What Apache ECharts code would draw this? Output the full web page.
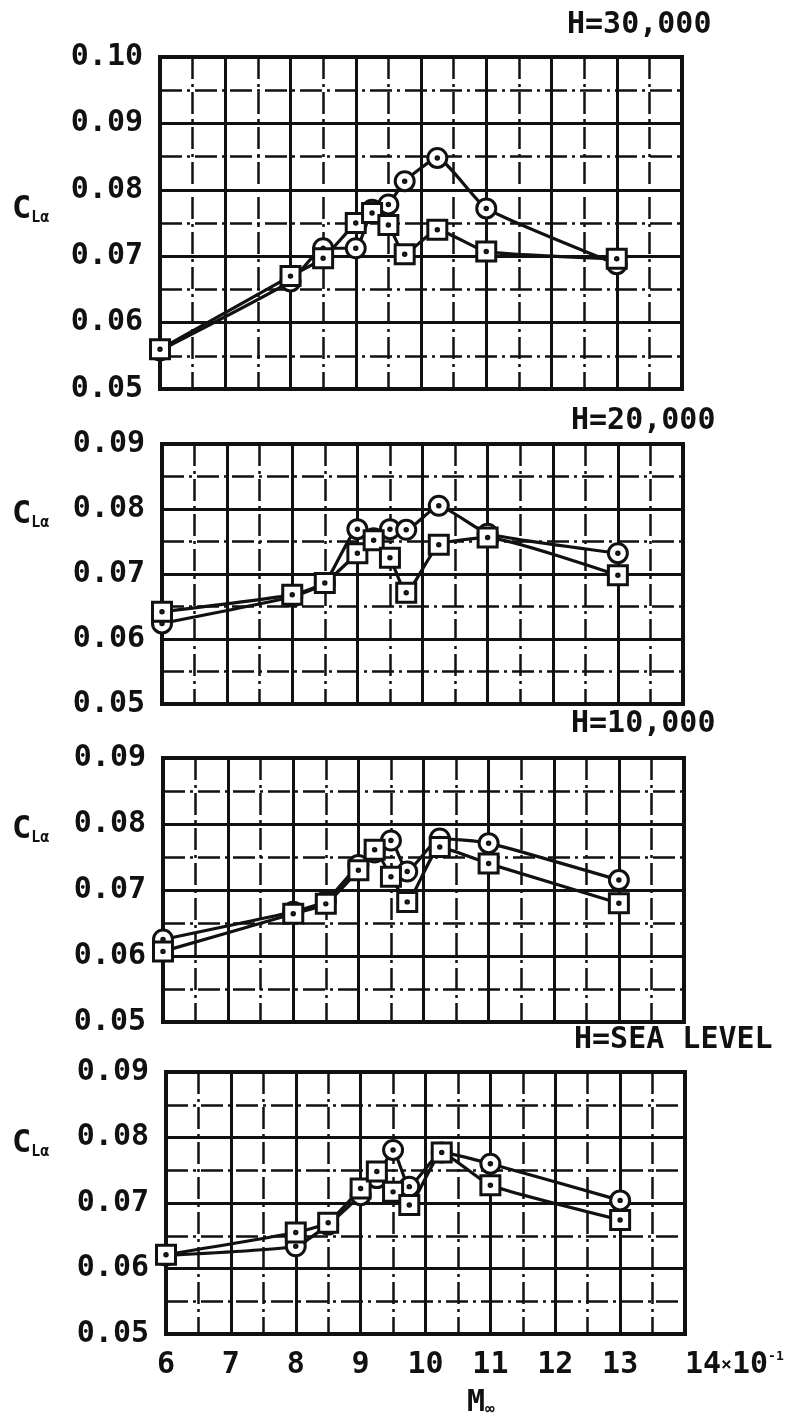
<!DOCTYPE html>
<html>
<head>
<meta charset="utf-8">
<script src="https://cdn.jsdelivr.net/npm/echarts@6/dist/echarts.min.js"></script>
<style>
html, body { margin: 0; padding: 0; background: #fff; }
#chart { width: 786px; height: 1423px; }
</style>
</head>
<body>
<div id="chart"></div>
<script>
// Mach number (x10^-1) at which every case was measured
var mach = [6, 8, 8.5, 9, 9.25, 9.5, 9.75, 10.25, 11, 13];

// lift-curve slope, circle symbols / square symbols
var circle30k = [0.0558, 0.0662, 0.0712, 0.0712, 0.0770, 0.0778, 0.0813, 0.0848, 0.0772, 0.0688];
var square30k = [0.0560, 0.0670, 0.0697, 0.0750, 0.0765, 0.0747, 0.0703, 0.0740, 0.0707, 0.0696];
var circle20k = [0.0624, 0.0665, 0.0686, 0.0769, 0.0755, 0.0769, 0.0768, 0.0805, 0.0762, 0.0732];
var square20k = [0.0642, 0.0668, 0.0686, 0.0732, 0.0752, 0.0725, 0.0671, 0.0745, 0.0756, 0.0698];
var circle10k = [0.0625, 0.0667, 0.0683, 0.0738, 0.0757, 0.0775, 0.0728, 0.0778, 0.0771, 0.0715];
var square10k = [0.0607, 0.0664, 0.0679, 0.0730, 0.0761, 0.0720, 0.0682, 0.0765, 0.0740, 0.0680];
var circleSL  = [0.0620, 0.0634, 0.0667, 0.0712, 0.0738, 0.0781, 0.0725, 0.0777, 0.0760, 0.0704];
var squareSL  = [0.0621, 0.0655, 0.0670, 0.0722, 0.0748, 0.0717, 0.0697, 0.0777, 0.0727, 0.0674];

var altitudes = ['H=30,000', 'H=20,000', 'H=10,000', 'H=SEA LEVEL'];
var yTop = [0.10, 0.09, 0.09, 0.09];
var xTickLabels = ['6', '7', '8', '9', '10', '11', '12', '13', '14'];

var circles = [circle30k, circle20k, circle10k, circleSL];
var squares = [square30k, square20k, square10k, squareSL];

// plot boxes (the scan is slightly skewed, so lefts drift)
var boxes = [
    { left: 160, top: 57,   width: 522, height: 332 },
    { left: 162, top: 444,  width: 521, height: 260 },
    { left: 163, top: 758,  width: 521, height: 264 },
    { left: 166, top: 1072, width: 519, height: 262 }
];
var titleY = [25, 421, 724, 1040];
var titleX = [567, 571, 571, 574];

var ink = '#111';
var mono = '"DejaVu Sans Mono", monospace';
var circleSym = 'path://M10,0A10,10,0,1,1,-10,0A10,10,0,1,1,10,0ZM1.3,0A1.3,1.3,0,1,1,-1.3,0A1.3,1.3,0,1,1,1.3,0Z';
var squareSym = 'path://M-10,-10L10,-10L10,10L-10,10ZM1.3,0A1.3,1.3,0,1,1,-1.3,0A1.3,1.3,0,1,1,1.3,0Z';

function pairs(ys) {
    return mach.map(function (m, i) { return [m, ys[i]]; });
}

var grids = [], xAxes = [], yAxes = [], series = [], graphics = [];

for (var i = 0; i < 4; i++) {
    var b = boxes[i];
    grids.push({
        left: b.left, top: b.top, width: b.width, height: b.height,
        outerBoundsMode: 'none', containLabel: false,
        show: true, borderColor: ink, borderWidth: 4, backgroundColor: 'transparent'
    });
    xAxes.push({
        type: 'value', gridIndex: i, min: 6, max: 14, interval: 1,
        axisLine: { show: false }, axisTick: { show: false },
        axisLabel: {
            show: i === 3, showMaxLabel: true, showMinLabel: true, alignMaxLabel: 'left',
            margin: 16, color: ink, fontFamily: mono, fontWeight: 'bold', fontSize: 30,
            formatter: function (v) {
                var s = xTickLabels[Math.round(v) - 6];
                if (v === 14) return '{n|' + s + '}{x|×}{n|10}{s|-1}';
                return s;
            },
            rich: {
                n: { fontFamily: mono, fontWeight: 'bold', fontSize: 30, color: ink },
                x: { fontFamily: mono, fontWeight: 'bold', fontSize: 18, color: ink },
                s: { fontFamily: mono, fontWeight: 'bold', fontSize: 13, color: ink, verticalAlign: 'top' }
            }
        },
        splitLine: { show: true, lineStyle: { color: ink, width: 3 } },
        minorTick: { show: false, splitNumber: 2 },
        minorSplitLine: { show: true, lineStyle: { color: ink, width: 2.5, type: [22, 5, 3, 5] } }
    });
    yAxes.push({
        type: 'value', gridIndex: i, min: 0.05, max: yTop[i], interval: 0.01,
        axisLine: { show: false }, axisTick: { show: false },
        axisLabel: {
            margin: 17, color: ink, fontFamily: mono, fontWeight: 'bold', fontSize: 30,
            formatter: function (v) { return v.toFixed(2); }
        },
        splitLine: { show: true, lineStyle: { color: ink, width: 3 } },
        minorTick: { show: false, splitNumber: 2 },
        minorSplitLine: { show: true, lineStyle: { color: ink, width: 2.5, type: [22, 5, 3, 5] } }
    });

    [[circles[i], circleSym], [squares[i], squareSym]].forEach(function (s) {
        series.push({
            type: 'line', xAxisIndex: i, yAxisIndex: i,
            data: pairs(s[0]),
            symbol: s[1], symbolSize: 19, smooth: 0.15,
            lineStyle: { color: ink, width: 3.2 },
            itemStyle: { color: '#fff', borderColor: ink, borderWidth: 3 },
            z: 3
        });
    });

    graphics.push({
        type: 'text', x: titleX[i], y: titleY[i],
        style: { text: altitudes[i], font: 'bold 30px ' + mono, fill: ink, verticalAlign: 'middle' }
    });
    // C_L alpha ordinate label, just under the 0.08 line
    var cy = b.top + b.height * (yTop[i] - 0.08) / (yTop[i] - 0.05) + (i === 0 ? 20 : 6);
    graphics.push({
        type: 'text', x: 12, y: cy,
        style: {
            text: '{c|C}{s|Lα}', verticalAlign: 'middle',
            rich: {
                c: { font: 'bold 32px ' + mono, fill: ink },
                s: { font: 'bold 15px ' + mono, fill: ink, verticalAlign: 'bottom' }
            }
        }
    });
}

graphics.push({
    type: 'text', x: 467, y: 1403,
    style: {
        text: '{m|M}{s|∞}', verticalAlign: 'middle',
        rich: {
            m: { font: 'bold 30px ' + mono, fill: ink },
            s: { font: 'bold 16px ' + mono, fill: ink, verticalAlign: 'bottom' }
        }
    }
});

var myChart = echarts.init(document.getElementById('chart'));
myChart.setOption({
    animation: false,
    backgroundColor: '#fff',
    grid: grids,
    xAxis: xAxes,
    yAxis: yAxes,
    series: series,
    graphic: graphics
});
</script>
</body>
</html>
